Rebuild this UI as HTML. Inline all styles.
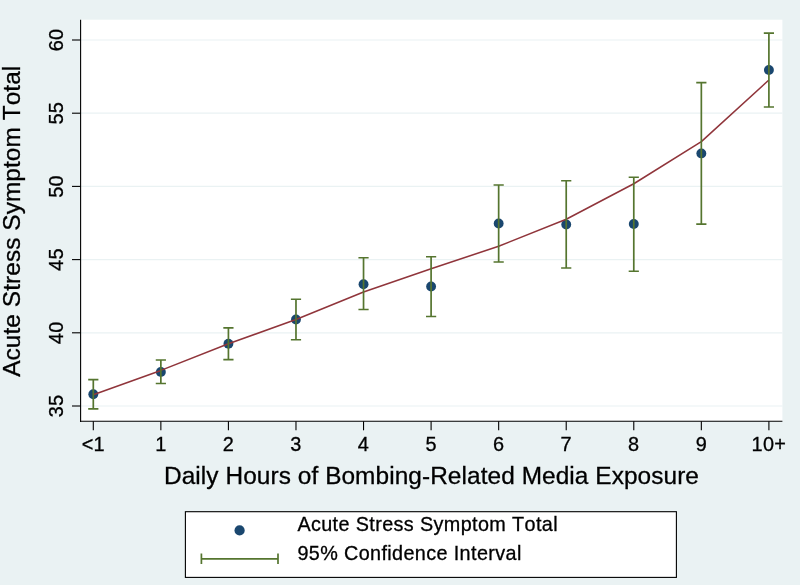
<!DOCTYPE html>
<html lang="en"><head><meta charset="utf-8"><title>Acute Stress Symptom Total</title>
<style>
html,body{margin:0;padding:0;background:#eaf2f3;}
body{width:800px;height:585px;overflow:hidden;}
svg{display:block;}
text{font-kerning:none;font-family:"Liberation Sans",Arial,Helvetica,sans-serif;fill:#000;}
.t{font-size:24.4px;letter-spacing:0.08px}
.s{font-size:19.9px;letter-spacing:0.3px}
.l{font-size:19.8px;letter-spacing:0.38px}
text{stroke:#000;stroke-width:0.3px}
</style></head><body>
<svg width="800" height="585" viewBox="0 0 800 585">
<rect x="0" y="0" width="800" height="585" fill="#eaf2f3"/>
<rect x="80" y="19.7" width="702.4" height="401.6" fill="#ffffff"/>

<line x1="81" x2="782.4" y1="406.00" y2="406.00" stroke="#eaf2f3" stroke-width="1.2"/>
<line x1="81" x2="782.4" y1="332.80" y2="332.80" stroke="#eaf2f3" stroke-width="1.2"/>
<line x1="81" x2="782.4" y1="259.60" y2="259.60" stroke="#eaf2f3" stroke-width="1.2"/>
<line x1="81" x2="782.4" y1="186.40" y2="186.40" stroke="#eaf2f3" stroke-width="1.2"/>
<line x1="81" x2="782.4" y1="113.20" y2="113.20" stroke="#eaf2f3" stroke-width="1.2"/>
<line x1="81" x2="782.4" y1="40.00" y2="40.00" stroke="#eaf2f3" stroke-width="1.2"/>
<line x1="80.6" x2="80.6" y1="19.7" y2="421.9" stroke="#000" stroke-width="1.1"/>
<line x1="80" x2="782.4" y1="421.3" y2="421.3" stroke="#000" stroke-width="1.1"/>
<line x1="72" x2="80.6" y1="406.00" y2="406.00" stroke="#000" stroke-width="1.1"/>
<text class="s" text-anchor="middle" transform="translate(62.5 406.00) rotate(-90)">35</text>
<line x1="72" x2="80.6" y1="332.80" y2="332.80" stroke="#000" stroke-width="1.1"/>
<text class="s" text-anchor="middle" transform="translate(62.5 332.80) rotate(-90)">40</text>
<line x1="72" x2="80.6" y1="259.60" y2="259.60" stroke="#000" stroke-width="1.1"/>
<text class="s" text-anchor="middle" transform="translate(62.5 259.60) rotate(-90)">45</text>
<line x1="72" x2="80.6" y1="186.40" y2="186.40" stroke="#000" stroke-width="1.1"/>
<text class="s" text-anchor="middle" transform="translate(62.5 186.40) rotate(-90)">50</text>
<line x1="72" x2="80.6" y1="113.20" y2="113.20" stroke="#000" stroke-width="1.1"/>
<text class="s" text-anchor="middle" transform="translate(62.5 113.20) rotate(-90)">55</text>
<line x1="72" x2="80.6" y1="40.00" y2="40.00" stroke="#000" stroke-width="1.1"/>
<text class="s" text-anchor="middle" transform="translate(62.5 40.00) rotate(-90)">60</text>
<line x1="93.30" x2="93.30" y1="421.3" y2="430.3" stroke="#000" stroke-width="1.1"/>
<text class="s" text-anchor="middle" x="93.30" y="451.3">&lt;1</text>
<line x1="160.86" x2="160.86" y1="421.3" y2="430.3" stroke="#000" stroke-width="1.1"/>
<text class="s" text-anchor="middle" x="160.86" y="451.3">1</text>
<line x1="228.42" x2="228.42" y1="421.3" y2="430.3" stroke="#000" stroke-width="1.1"/>
<text class="s" text-anchor="middle" x="228.42" y="451.3">2</text>
<line x1="295.98" x2="295.98" y1="421.3" y2="430.3" stroke="#000" stroke-width="1.1"/>
<text class="s" text-anchor="middle" x="295.98" y="451.3">3</text>
<line x1="363.54" x2="363.54" y1="421.3" y2="430.3" stroke="#000" stroke-width="1.1"/>
<text class="s" text-anchor="middle" x="363.54" y="451.3">4</text>
<line x1="431.10" x2="431.10" y1="421.3" y2="430.3" stroke="#000" stroke-width="1.1"/>
<text class="s" text-anchor="middle" x="431.10" y="451.3">5</text>
<line x1="498.66" x2="498.66" y1="421.3" y2="430.3" stroke="#000" stroke-width="1.1"/>
<text class="s" text-anchor="middle" x="498.66" y="451.3">6</text>
<line x1="566.22" x2="566.22" y1="421.3" y2="430.3" stroke="#000" stroke-width="1.1"/>
<text class="s" text-anchor="middle" x="566.22" y="451.3">7</text>
<line x1="633.78" x2="633.78" y1="421.3" y2="430.3" stroke="#000" stroke-width="1.1"/>
<text class="s" text-anchor="middle" x="633.78" y="451.3">8</text>
<line x1="701.34" x2="701.34" y1="421.3" y2="430.3" stroke="#000" stroke-width="1.1"/>
<text class="s" text-anchor="middle" x="701.34" y="451.3">9</text>
<line x1="768.90" x2="768.90" y1="421.3" y2="430.3" stroke="#000" stroke-width="1.1"/>
<text class="s" text-anchor="middle" x="768.90" y="451.3">10+</text>
<circle cx="93.30" cy="394.20" r="4.95" fill="#1a476f"/>
<circle cx="160.86" cy="371.90" r="4.95" fill="#1a476f"/>
<circle cx="228.42" cy="343.75" r="4.95" fill="#1a476f"/>
<circle cx="295.98" cy="319.50" r="4.95" fill="#1a476f"/>
<circle cx="363.54" cy="284.25" r="4.95" fill="#1a476f"/>
<circle cx="431.10" cy="286.50" r="4.95" fill="#1a476f"/>
<circle cx="498.66" cy="223.50" r="4.95" fill="#1a476f"/>
<circle cx="566.22" cy="224.50" r="4.95" fill="#1a476f"/>
<circle cx="633.78" cy="224.00" r="4.95" fill="#1a476f"/>
<circle cx="701.34" cy="153.40" r="4.95" fill="#1a476f"/>
<circle cx="768.90" cy="70.00" r="4.95" fill="#1a476f"/>
<polyline points="93.30,394.70 160.86,370.40 228.42,343.75 295.98,319.50 363.54,292.00 431.10,268.75 498.66,246.25 566.22,219.25 633.78,183.75 701.34,141.60 768.90,80.00" fill="none" stroke="#90353b" stroke-width="1.55" stroke-linejoin="round"/>
<path d="M88.20 379.60H98.40M88.20 408.90H98.40M93.30 379.60V408.90" fill="none" stroke="#55752f" stroke-width="1.7"/>
<path d="M155.76 360.00H165.96M155.76 383.50H165.96M160.86 360.00V383.50" fill="none" stroke="#55752f" stroke-width="1.7"/>
<path d="M223.32 327.90H233.52M223.32 359.70H233.52M228.42 327.90V359.70" fill="none" stroke="#55752f" stroke-width="1.7"/>
<path d="M290.88 299.25H301.08M290.88 339.75H301.08M295.98 299.25V339.75" fill="none" stroke="#55752f" stroke-width="1.7"/>
<path d="M358.44 257.75H368.64M358.44 309.50H368.64M363.54 257.75V309.50" fill="none" stroke="#55752f" stroke-width="1.7"/>
<path d="M426.00 256.75H436.20M426.00 316.50H436.20M431.10 256.75V316.50" fill="none" stroke="#55752f" stroke-width="1.7"/>
<path d="M493.56 185.00H503.76M493.56 262.00H503.76M498.66 185.00V262.00" fill="none" stroke="#55752f" stroke-width="1.7"/>
<path d="M561.12 180.75H571.32M561.12 268.00H571.32M566.22 180.75V268.00" fill="none" stroke="#55752f" stroke-width="1.7"/>
<path d="M628.68 177.25H638.88M628.68 271.25H638.88M633.78 177.25V271.25" fill="none" stroke="#55752f" stroke-width="1.7"/>
<path d="M696.24 82.60H706.44M696.24 224.20H706.44M701.34 82.60V224.20" fill="none" stroke="#55752f" stroke-width="1.7"/>
<path d="M763.80 33.20H774.00M763.80 107.00H774.00M768.90 33.20V107.00" fill="none" stroke="#55752f" stroke-width="1.7"/>
<text class="t" text-anchor="middle" transform="translate(20.3 221.2) rotate(-90)">Acute Stress Symptom Total</text>
<text class="t" text-anchor="middle" x="431.5" y="483.8">Daily Hours of Bombing-Related Media Exposure</text>
<rect x="185.4" y="511.7" width="491" height="65.7" fill="#ffffff" stroke="#000" stroke-width="1.1"/>
<circle cx="239.6" cy="530.4" r="5.1" fill="#1a476f"/>
<path d="M201.4 558.8H278M201.4 553.5V564.1M278 553.5V564.1" fill="none" stroke="#55752f" stroke-width="1.7"/>
<text class="l" x="297.4" y="530.9">Acute Stress Symptom Total</text>
<text class="l" x="297.4" y="560.4">95% Confidence Interval</text>
</svg></body></html>
